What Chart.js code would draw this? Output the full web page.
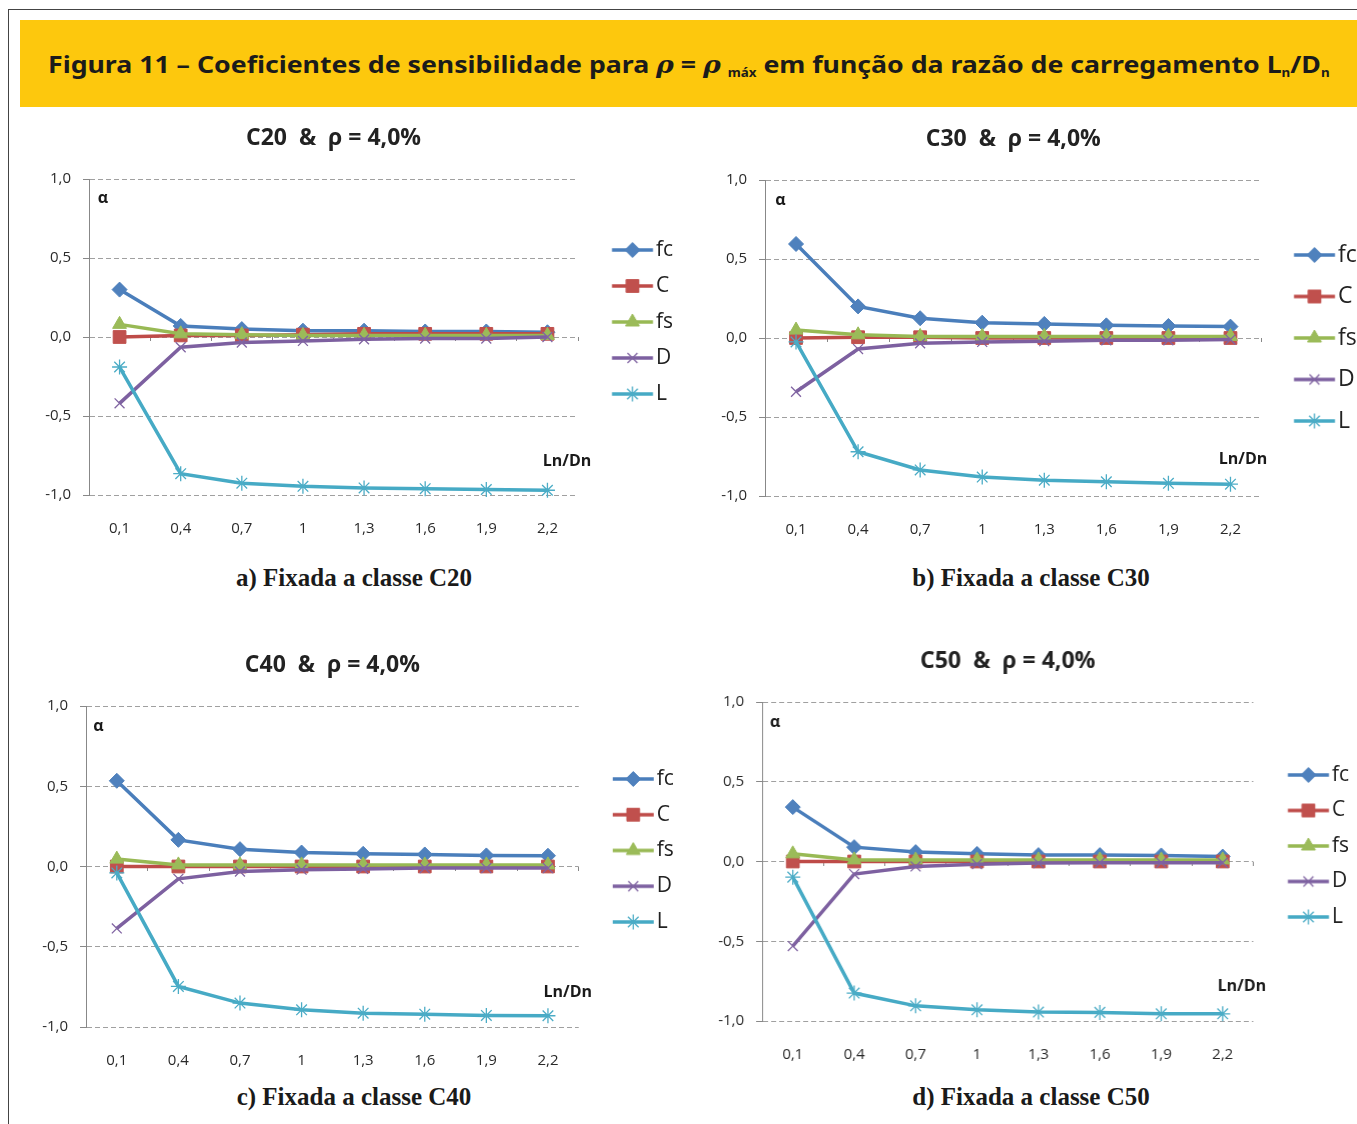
<!DOCTYPE html>
<html lang="pt">
<head>
  <meta charset="UTF-8">
  <title>Figura 11 | Coeficientes de sensibilidade</title>
  <script src="https://cdn.jsdelivr.net/npm/chart.js"></script>
  <style>
    * { box-sizing: border-box; }
    body { margin: 0; width: 1357px; height: 1124px; overflow: hidden; background: #fff; position: relative; font-family: "Open Sans", sans-serif; }
    .frame { position: absolute; left: 8px; top: 9px; width: 1400px; height: 1200px; border-top: 1px solid #444; border-left: 1px solid #444; }
    .banner { position: absolute; left: 20px; top: 20px; width: 1337px; height: 87px; background: #fdc80d; }
    .banner h1 { position: absolute; left: 28px; top: 27px; margin: 0; line-height: 30px; font: bold 24px "Noto Sans", sans-serif; white-space: nowrap; color: #1b1b1b; transform-origin: 0 50%; }
    .banner h1 sub { font-size: 12px; vertical-align: -4px; }
    .banner h1 i { font-family: "DejaVu Serif", serif; }
    canvas { position: absolute; }
    .cap { position: absolute; font: bold 25px "Liberation Serif", serif; transform: translate(-50%, -50%); white-space: nowrap; color: #1a1a1a; }
  </style>
</head>
<body>
  <div class="frame"></div>
  <div class="banner">
    <h1 id="fig">Figura 11 – Coeficientes de sensibilidade para <i>ρ</i> = <i>ρ</i> <sub>máx</sub> em função da razão de carregamento L<sub>n</sub>/D<sub>n</sub></h1>
  </div>

  <script>
    const categories = ['0,1', '0,4', '0,7', '1', '1,3', '1,6', '1,9', '2,2'];
    const seriesNames = ['fc', 'C', 'fs', 'D', 'L'];
    const yTicks = [-1, -0.5, 0, 0.5, 1];

    // a) C20
    const c20_fc = [0.30, 0.07, 0.05, 0.04, 0.04, 0.035, 0.035, 0.03];
    const c20_C  = [0.00, 0.01, 0.01, 0.015, 0.02, 0.02, 0.02, 0.02];
    const c20_fs = [0.08, 0.02, 0.015, 0.01, 0.01, 0.01, 0.01, 0.01];
    const c20_D  = [-0.42, -0.065, -0.035, -0.025, -0.015, -0.01, -0.01, 0.00];
    const c20_L  = [-0.19, -0.865, -0.925, -0.945, -0.955, -0.96, -0.965, -0.97];
    // b) C30
    const c30_fc = [0.595, 0.20, 0.125, 0.097, 0.089, 0.08, 0.076, 0.072];
    const c30_C  = [0.00, 0.005, 0.005, 0.00, 0.00, 0.00, 0.00, 0.00];
    const c30_fs = [0.05, 0.02, 0.01, 0.01, 0.01, 0.01, 0.01, 0.01];
    const c30_D  = [-0.34, -0.07, -0.034, -0.025, -0.02, -0.015, -0.015, -0.01];
    const c30_L  = [-0.025, -0.72, -0.835, -0.88, -0.90, -0.91, -0.92, -0.925];
    // c) C40
    const c40_fc = [0.534, 0.166, 0.108, 0.087, 0.079, 0.075, 0.069, 0.067];
    const c40_C  = [0.00, 0.00, 0.00, 0.00, 0.00, 0.00, 0.00, 0.00];
    const c40_fs = [0.046, 0.01, 0.01, 0.01, 0.01, 0.01, 0.01, 0.01];
    const c40_D  = [-0.386, -0.077, -0.031, -0.02, -0.015, -0.01, -0.01, -0.01];
    const c40_L  = [-0.04, -0.747, -0.851, -0.893, -0.914, -0.92, -0.928, -0.93];
    // d) C50
    const c50_fc = [0.341, 0.09, 0.059, 0.048, 0.04, 0.04, 0.038, 0.031];
    const c50_C  = [0.00, 0.00, 0.00, 0.00, 0.00, 0.00, 0.00, 0.00];
    const c50_fs = [0.048, 0.01, 0.01, 0.01, 0.01, 0.01, 0.01, 0.01];
    const c50_D  = [-0.53, -0.079, -0.031, -0.017, -0.01, -0.008, -0.008, -0.008];
    const c50_L  = [-0.098, -0.825, -0.905, -0.93, -0.944, -0.946, -0.955, -0.955];

    // excel 2007 look
    const styles = [
      { line: '#4A7EBB', fill: '#4F81BD', point: 'rectRot',  r: 7.5, pbw: 1 },
      { line: '#BE4B48', fill: '#C0504D', point: 'rect',     r: 9,   pbw: 1 },
      { line: '#98B954', fill: '#9BBB59', point: 'triangle', r: 8,   pbw: 1 },
      { line: '#7D60A0', fill: '#8064A2', point: 'crossRot', r: 7,   pbw: 1.3 },
      { line: '#46AAC5', fill: '#4BACC6', point: 'star',     r: 7.5, pbw: 1.3 }
    ];

    // page coordinates of each panel (plot area, title, legend)
    const panels = [
      { title: 'C20  &  ρ = 4,0%', caption: 'a) Fixada a classe C20', series: [c20_fc, c20_C, c20_fs, c20_D, c20_L],
        left: 89, right: 573, top: 179, bottom: 495, titleY: 138, tickY: 528,
        legS: 34, legF: 21, legP: 15, legY: 250, alpha: [14, 19], ln: [-11, -34], capX: 354, capY: 578 },
      { title: 'C30  &  ρ = 4,0%', caption: 'b) Fixada a classe C30', series: [c30_fc, c30_C, c30_fs, c30_D, c30_L],
        left: 764.5, right: 1252.5, top: 180, bottom: 496, titleY: 139, tickY: 529,
        legS: 32.5, legF: 23, legP: 18.5, legY: 255, alpha: [15.5, 20], ln: [-18.5, -37], capX: 1031, capY: 578 },
      { title: 'C40  &  ρ = 4,0%', caption: 'c) Fixada a classe C40', series: [c40_fc, c40_C, c40_fs, c40_D, c40_L],
        left: 85.5, right: 574, top: 706, bottom: 1027, titleY: 665, tickY: 1059,
        legS: 34, legF: 21, legP: 14.75, legY: 779, alpha: [12.5, 20], ln: [-11, -35], capX: 354, capY: 1097 },
      { title: 'C50  &  ρ = 4,0%', caption: 'd) Fixada a classe C50', series: [c50_fc, c50_C, c50_fs, c50_D, c50_L],
        left: 762, right: 1248.5, top: 702, bottom: 1021, titleY: 661, tickY: 1052,
        legS: 34.5, legF: 21, legP: 14.5, legY: 775, alpha: [13, 20], ln: [-11.5, -35], capX: 1031, capY: 1097 }
    ];

    const FAMILY = '"Open Sans", sans-serif';
    Chart.defaults.font.family = FAMILY;

    const mctx = document.createElement('canvas').getContext('2d');
    function textW(t, size) {
      mctx.font = 'normal ' + size + 'px ' + FAMILY;
      return mctx.measureText(t).width;
    }

    // α and Ln/Dn labels
    const axisNotes = {
      id: 'axisNotes',
      afterDraw(chart, args, opts) {
        const a = chart.chartArea, ctx = chart.ctx;
        ctx.save();
        ctx.font = 'bold 16px ' + FAMILY;
        ctx.fillStyle = '#1a1a1a';
        ctx.textAlign = 'center';
        ctx.textBaseline = 'middle';
        ctx.fillText('α', a.left + opts.alpha[0], a.top + opts.alpha[1]);
        ctx.fillText('Ln/Dn', a.right + opts.ln[0], a.bottom + opts.ln[1]);
        ctx.restore();
      }
    };

    // legend icon = short line with the marker in the middle
    function makeIcon(st, startOff, endOff) {
      const half = Math.max(Math.abs(startOff), Math.abs(endOff)) + 2;
      const c = document.createElement('canvas');
      c.width = Math.ceil(half * 2);
      c.height = 22;
      const ctx = c.getContext('2d');
      const cx = c.width / 2;
      ctx.strokeStyle = st.line;
      ctx.lineWidth = 3.5;
      ctx.beginPath();
      ctx.moveTo(cx + startOff, 11);
      ctx.lineTo(cx + endOff, 11);
      ctx.stroke();
      ctx.fillStyle = st.fill;
      ctx.strokeStyle = st.fill;
      ctx.lineWidth = st.pbw;
      Chart.helpers.drawPoint(ctx, { pointStyle: st.point, radius: st.r, rotation: 0, borderWidth: st.pbw }, cx + (startOff + endOff) / 2, 11);
      return c;
    }

    const LW = 41, GAP = 3, YW = 50;

    panels.forEach(p => {
      const CL = p.left - 80, CT = p.titleY - 30;
      const CW = p.right + 140 - CL, CH = p.tickY + 22 - CT;
      const cv = document.createElement('canvas');
      cv.width = CW; cv.height = CH;
      cv.style.left = CL + 'px'; cv.style.top = CT + 'px';
      cv.style.width = CW + 'px'; cv.style.height = CH + 'px';
      document.body.appendChild(cv);

      const bw = p.legS + LW + GAP - p.legP - p.legF / 2;
      const tw = Math.max(...seriesNames.map(n => textW(n, p.legF)));
      const legendW = p.legP + p.legS + LW + GAP + tw;
      const startOff = p.legS - p.legP - bw / 2;
      const icons = styles.map(st => makeIcon(st, startOff, startOff + LW));

      const titleLH = 23 * 1.2;
      const tTop = p.titleY - CT - titleLH / 2;
      const tBot = p.top - CT - tTop - titleLH;
      const legTitleH = p.legY - p.top - p.legP - p.legF / 2;
      const XH = CT + CH - p.bottom;

      new Chart(cv, {
        type: 'line',
        data: {
          labels: categories,
          datasets: seriesNames.map((name, i) => ({
            label: name,
            data: p.series[i],
            xAxisID: 'x',
            order: 5 - i,
            borderColor: styles[i].line,
            borderWidth: 3.5,
            tension: 0,
            pointStyle: styles[i].point,
            pointRadius: styles[i].r,
            pointBackgroundColor: styles[i].fill,
            pointBorderColor: styles[i].fill,
            pointBorderWidth: styles[i].pbw,
            clip: false
          }))
        },
        options: {
          responsive: false,
          animation: false,
          layout: { padding: { left: p.left - CL - YW, right: CW - (p.right - CL) - legendW, top: 0, bottom: 0 } },
          scales: {
            x: {
              type: 'category', offset: true,
              grid: { display: false, drawTicks: false },
              border: { display: false },
              ticks: { padding: 25, color: '#2a2a2a', font: { size: 15 }, maxRotation: 0 },
              afterFit: s => { s.height = XH; }
            },
            x2: {
              type: 'category', axis: 'x', labels: categories, offset: true,
              position: { y: 0 },
              ticks: { display: false },
              border: { display: false },
              grid: { offset: true, drawOnChartArea: false, drawTicks: true, tickLength: 4, color: '#888', tickColor: '#888' }
            },
            y: {
              min: -1, max: 1,
              afterBuildTicks: s => { s.ticks = yTicks.map(v => ({ value: v })); },
              afterFit: s => { s.width = YW; },
              ticks: { padding: 12, color: '#2a2a2a', font: { size: 15 }, callback: v => v.toFixed(1).replace('.', ',') },
              grid: { color: '#a0a0a0', lineWidth: 1, tickColor: '#888', tickLength: 6 },
              border: { display: true, color: '#888', width: 1, dash: [5, 3] }
            }
          },
          plugins: {
            tooltip: { enabled: false },
            title: {
              display: true, text: p.title, fullSize: false, color: '#222',
              font: { size: 23, weight: 'bold', lineHeight: 1.2 },
              padding: { top: tTop, bottom: tBot }
            },
            legend: {
              position: 'right', align: 'start', fullSize: false,
              title: { display: true, text: '', font: { size: 10, lineHeight: 1 }, padding: { top: legTitleH - 10, bottom: 0 } },
              labels: {
                usePointStyle: true,
                pointStyleWidth: bw,
                padding: p.legP,
                color: '#222',
                font: { size: p.legF },
                generateLabels(chart) {
                  const items = Chart.defaults.plugins.legend.labels.generateLabels(chart);
                  items.forEach(it => { it.pointStyle = icons[it.datasetIndex]; it.lineWidth = 0; });
                  return items.sort((a, b) => a.datasetIndex - b.datasetIndex);
                }
              }
            },
            axisNotes: { alpha: p.alpha, ln: p.ln }
          }
        },
        plugins: [axisNotes]
      });

      const cap = document.createElement('div');
      cap.className = 'cap';
      cap.textContent = p.caption;
      cap.style.left = p.capX + 'px';
      cap.style.top = p.capY + 'px';
      document.body.appendChild(cap);
    });

    // stretch the banner title to the width it has in the figure
    const fig = document.getElementById('fig');
    fig.style.transform = 'scaleX(' + (1282 / fig.scrollWidth) + ')';
  </script>
</body>
</html>
